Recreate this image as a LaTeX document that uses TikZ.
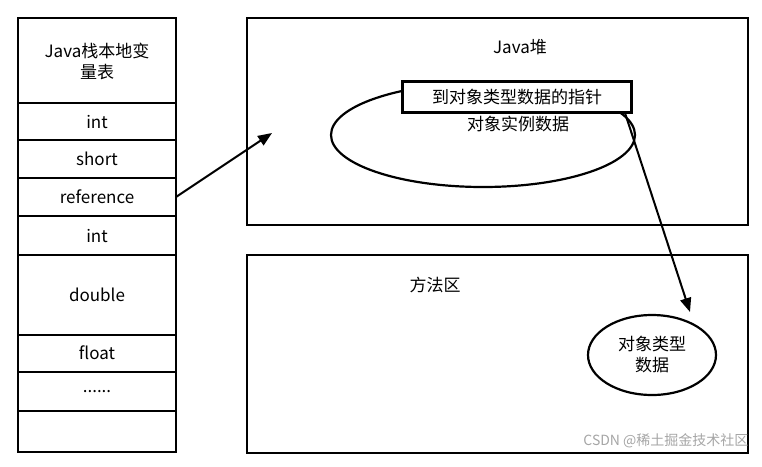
\documentclass[tikz,border=0pt]{standalone}
\usepackage{fontspec}
\setmainfont{Noto Sans CJK SC}
\usetikzlibrary{shapes.geometric,arrows.meta}
\begin{document}
\begin{tikzpicture}[x=1pt,y=-1pt,
  box/.style={draw,line width=2.2pt},
  lbl/.style={font=\fontsize{17}{21}\selectfont,align=center},
  arr/.style={draw,line width=2pt,-{Triangle[length=14pt,width=11pt]}}]
\useasboundingbox (0,0) rectangle (762,466);
\fill[white] (0,0) rectangle (762,466);
% table
\foreach \a/\b in {18/103,103/140,140/178,178/216,216/255,255/335,335/372,372/411,411/452}
  \draw[box] (18,\a) rectangle (176,\b);
\node[lbl] (h) at (97,61) {Java栈本地变\\量表};
\node[lbl] (r1) at (97,122) {int};
\node[lbl] (r2) at (97,159) {short};
\node[lbl] (r3) at (97,197) {reference};
\node[lbl] (r4) at (97,236) {int};
\node[lbl] (r5) at (97,295) {double};
\node[lbl] (r6) at (97,353) {float};
\node[lbl] (r7) at (97,392) {......};
\coordinate (refR) at (176,197);
% heap
\draw[box] (247,18) rectangle (748,225);
\node[lbl] (heap) at (520,47) {Java堆};
\node[draw,ellipse,line width=2.2pt,minimum width=304pt,minimum height=104pt] (ell) at (483,135) {};
\node[draw,fill=white,line width=2.2pt,minimum width=229pt,minimum height=31pt,lbl,inner sep=0pt] (ptr) at (517,97) {到对象类型数据的指针};
\node[lbl] (inst) at (518,124) {对象实例数据};
\coordinate (tgt) at (272,133);
\coordinate (tgt2) at (690,312);
% method area
\draw[box] (247,255) rectangle (748,453);
\node[lbl] (ma) at (435,285) {方法区};
\node[draw,ellipse,line width=2.2pt,minimum width=128pt,minimum height=80pt,lbl,inner sep=0pt] (typ) at (652,355) {对象类型\\数据};
\draw[arr] (refR) -- (tgt);
\draw[arr] (625,113) -- (tgt2);
\node[font=\fontsize{14}{16}\selectfont,text=gray!70,anchor=east] (wm) at (752,441) {CSDN @稀土掘金技术社区};
\end{tikzpicture}
\end{document}
